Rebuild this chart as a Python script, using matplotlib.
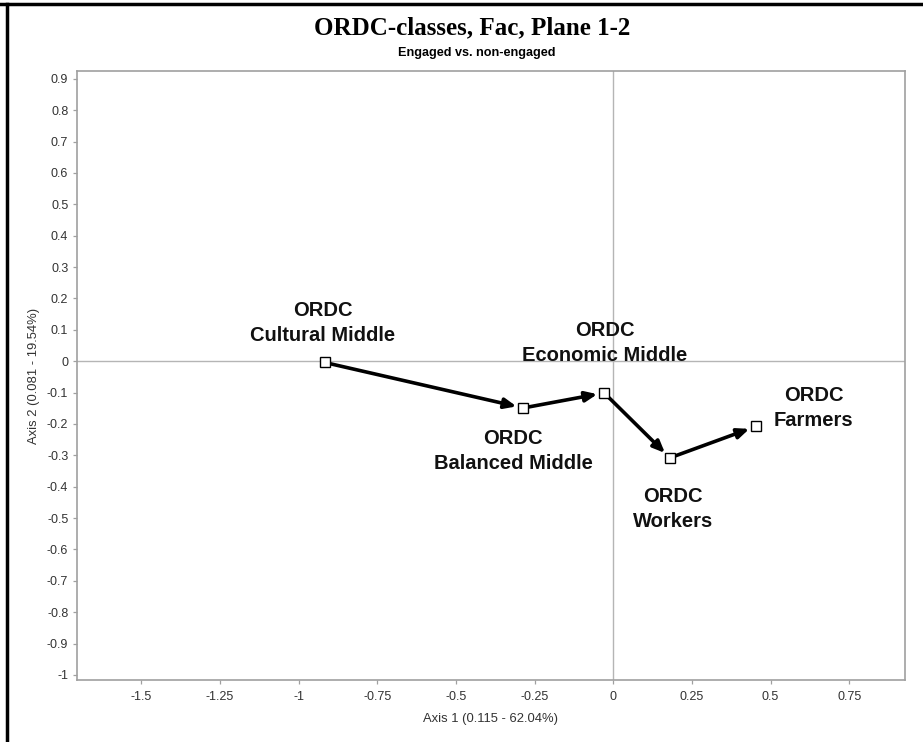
import matplotlib
matplotlib.use("Agg")
import matplotlib.pyplot as plt
from matplotlib.lines import Line2D

# ORDC class coordinates on factorial plane 1-2 (trajectory order)
classes = ["ORDC\nCultural Middle", "ORDC\nBalanced Middle", "ORDC\nEconomic Middle",
           "ORDC\nWorkers", "ORDC\nFarmers"]
axis1 = [-0.917, -0.286, -0.029, 0.180, 0.453]
axis2 = [-0.004, -0.149, -0.101, -0.308, -0.208]

# label centre offsets in points (dx, dy) relative to each point
label_offsets = [(-1.5, 28.2), (-7.4, -31.0), (0.5, 35.8), (2.2, -36.6), (41.5, 13.2)]

x_ticks = [-1.5, -1.25, -1, -0.75, -0.5, -0.25, 0, 0.25, 0.5, 0.75]
x_tick_labels = ["-1.5", "-1.25", "-1", "-0.75", "-0.5", "-0.25", "0", "0.25", "0.5", "0.75"]
y_ticks = [0.9, 0.8, 0.7, 0.6, 0.5, 0.4, 0.3, 0.2, 0.1, 0, -0.1, -0.2, -0.3, -0.4,
           -0.5, -0.6, -0.7, -0.8, -0.9, -1]
y_tick_labels = ["0.9", "0.8", "0.7", "0.6", "0.5", "0.4", "0.3", "0.2", "0.1", "0",
                 "-0.1", "-0.2", "-0.3", "-0.4", "-0.5", "-0.6", "-0.7", "-0.8", "-0.9", "-1"]

plt.rcParams["font.family"] = ["Liberation Sans", "DejaVu Sans"]

fig = plt.figure(figsize=(9.23, 7.42), dpi=100)
ax = fig.add_axes([0.0831, 0.0836, 0.8974, 0.8207])

ax.set_xlim(-1.705, 0.927)
ax.set_ylim(-1.016, 0.925)

grey = "#a0a0a0"
for s in ax.spines.values():
    s.set_color(grey)
    s.set_linewidth(1.2)

ax.axhline(0, color="#b5b5b5", lw=1.0, zorder=1)
ax.axvline(0, color="#b5b5b5", lw=1.0, zorder=1)

ax.set_xticks(x_ticks)
ax.set_xticklabels(x_tick_labels)
ax.set_yticks(y_ticks)
ax.set_yticklabels(y_tick_labels)
ax.tick_params(axis="both", direction="out", length=3, width=0.9, color=grey,
               labelsize=9, labelcolor="#333333", pad=3)
ax.tick_params(axis="x", pad=5)

ax.set_xlabel("Axis 1 (0.115 - 62.04%)", fontsize=9.4, color="#333333", labelpad=7)
ax.set_ylabel("Axis 2 (0.081 - 19.54%)", fontsize=9.4, color="#333333", labelpad=5)

# arrows along the trajectory
for i in range(len(axis1) - 1):
    ax.annotate("", xy=(axis1[i + 1], axis2[i + 1]), xytext=(axis1[i], axis2[i]),
                arrowprops=dict(arrowstyle="-|>,head_length=0.7,head_width=0.3",
                                color="black", lw=2.6, shrinkA=4, shrinkB=5),
                zorder=3)

ax.plot(axis1, axis2, linestyle="none", marker="s", markersize=7,
        markerfacecolor="white", markeredgecolor="black", markeredgewidth=1.0, zorder=4)

for name, x, y, (dx, dy) in zip(classes, axis1, axis2, label_offsets):
    ax.annotate(name, xy=(x, y), xytext=(dx, dy), textcoords="offset points",
                ha="center", va="center", fontsize=14.5, fontweight="bold",
                color="#111111", linespacing=1.4, zorder=5)

fig.text(0.512, 0.962, "ORDC-classes, Fac, Plane 1-2", ha="center", va="center",
         fontsize=18, fontweight="bold", family=["Liberation Serif", "DejaVu Serif"])
fig.text(0.516, 0.929, "Engaged vs. non-engaged", ha="center", va="center",
         fontsize=9.1, fontweight="bold")

# frame edges at top and left of the canvas
fig.add_artist(Line2D([0, 1], [1 - 4 / 742, 1 - 4 / 742], transform=fig.transFigure,
                      color="black", lw=2.5))
fig.add_artist(Line2D([7 / 923, 7 / 923], [0, 1 - 4 / 742], transform=fig.transFigure,
                      color="black", lw=2.5))

fig.savefig("out.png", dpi=100, facecolor="white")
